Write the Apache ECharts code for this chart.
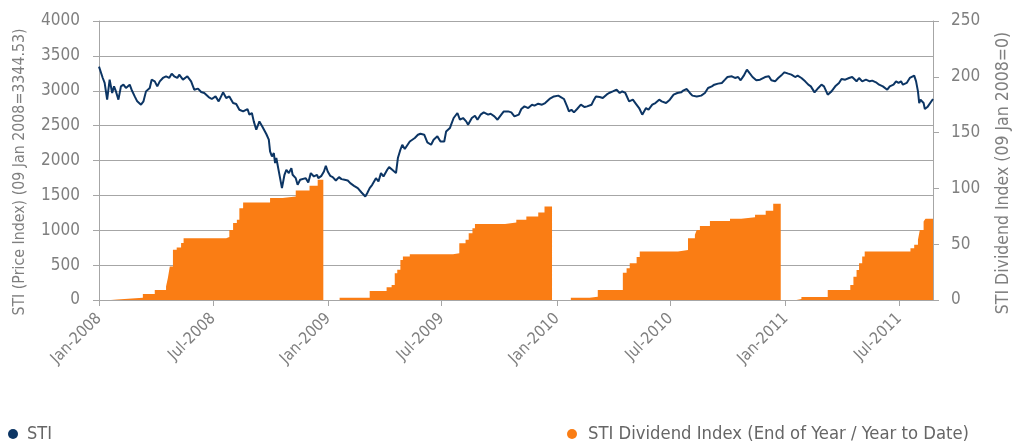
<!DOCTYPE html>
<html>
<head>
<meta charset="utf-8">
<script src="https://cdn.jsdelivr.net/npm/echarts@6/dist/echarts.min.js"></script>
<style>
html, body { margin: 0; padding: 0; background: #fff; }
#chart { width: 1012px; height: 443px; }
</style>
</head>
<body>
<div id="chart"></div>
<script>
// STI price index
const stiDates = [
    '2008-01-09','2008-01-15','2008-01-18','2008-01-22','2008-01-26','2008-01-30','2008-02-02','2008-02-05','2008-02-09','2008-02-13',
    '2008-02-17','2008-02-21','2008-02-27','2008-03-01','2008-03-06','2008-03-10','2008-03-16','2008-03-20','2008-03-24','2008-03-30',
    '2008-04-02','2008-04-07','2008-04-11','2008-04-15','2008-04-20','2008-04-25','2008-04-30','2008-05-04','2008-05-08','2008-05-13',
    '2008-05-16','2008-05-22','2008-05-29','2008-06-04','2008-06-09','2008-06-15','2008-06-20','2008-06-25','2008-07-02','2008-07-07',
    '2008-07-13','2008-07-18','2008-07-25','2008-07-30','2008-08-04','2008-08-10','2008-08-15','2008-08-20','2008-08-26','2008-09-02',
    '2008-09-05','2008-09-09','2008-09-12','2008-09-16','2008-09-21','2008-09-26','2008-10-02','2008-10-06','2008-10-08','2008-10-11',
    '2008-10-14','2008-10-16','2008-10-18','2008-10-21','2008-10-24','2008-10-27','2008-10-31','2008-11-03','2008-11-07','2008-11-11',
    '2008-11-13','2008-11-18','2008-11-21','2008-11-25','2008-11-28','2008-12-04','2008-12-08','2008-12-12','2008-12-17','2008-12-22',
    '2008-12-24','2008-12-29','2009-01-02','2009-01-05','2009-01-08','2009-01-12','2009-01-16','2009-01-21','2009-01-26','2009-01-30',
    '2009-02-04','2009-02-09','2009-02-13','2009-02-19','2009-02-25','2009-03-03','2009-03-09','2009-03-12','2009-03-16','2009-03-20',
    '2009-03-26','2009-03-30','2009-04-03','2009-04-07','2009-04-13','2009-04-16','2009-04-21','2009-04-27','2009-04-30','2009-05-04',
    '2009-05-07','2009-05-11','2009-05-14','2009-05-19','2009-05-22','2009-05-27','2009-06-01','2009-06-05','2009-06-11','2009-06-16',
    '2009-06-22','2009-06-26','2009-07-02','2009-07-07','2009-07-13','2009-07-16','2009-07-22','2009-07-24','2009-07-28','2009-08-03',
    '2009-08-07','2009-08-12','2009-08-17','2009-08-20','2009-08-26','2009-08-31','2009-09-04','2009-09-09','2009-09-14','2009-09-21',
    '2009-09-25','2009-10-01','2009-10-06','2009-10-12','2009-10-16','2009-10-23','2009-10-28','2009-11-02','2009-11-09','2009-11-13',
    '2009-11-18','2009-11-24','2009-11-30','2009-12-04','2009-12-10','2009-12-16','2009-12-21','2009-12-28','2010-01-04','2010-01-06',
    '2010-01-11','2010-01-15','2010-01-20','2010-01-25','2010-01-28','2010-02-01','2010-02-05','2010-02-10','2010-02-16','2010-02-22',
    '2010-02-26','2010-03-05','2010-03-09','2010-03-12','2010-03-18','2010-03-23','2010-03-29','2010-04-02','2010-04-08','2010-04-14',
    '2010-04-19','2010-04-23','2010-04-28','2010-05-04','2010-05-10','2010-05-14','2010-05-20','2010-05-25','2010-05-31','2010-06-04',
    '2010-06-10','2010-06-15','2010-06-21','2010-06-25','2010-07-02','2010-07-08','2010-07-14','2010-07-20','2010-07-26','2010-07-30',
    '2010-08-04','2010-08-09','2010-08-13','2010-08-20','2010-08-27','2010-09-02','2010-09-07','2010-09-13','2010-09-17','2010-09-23',
    '2010-09-29','2010-10-04','2010-10-08','2010-10-15','2010-10-20','2010-10-25','2010-10-29','2010-11-03','2010-11-08','2010-11-12',
    '2010-11-17','2010-11-23','2010-11-29','2010-12-01','2010-12-07','2010-12-13','2010-12-17','2010-12-23','2010-12-28','2011-01-03',
    '2011-01-07','2011-01-13','2011-01-18','2011-01-24','2011-01-28','2011-02-03','2011-02-09','2011-02-14','2011-02-18','2011-02-24',
    '2011-03-02','2011-03-07','2011-03-11','2011-03-17','2011-03-23','2011-03-29','2011-04-04','2011-04-08','2011-04-14','2011-04-20',
    '2011-04-25','2011-05-02','2011-05-06','2011-05-11','2011-05-17','2011-05-23','2011-05-27','2011-06-02','2011-06-07','2011-06-13',
    '2011-06-20','2011-06-24','2011-06-30','2011-07-04','2011-07-08','2011-07-12','2011-07-15','2011-07-21','2011-07-26','2011-08-02',
    '2011-08-05','2011-08-08','2011-08-10','2011-08-12','2011-08-17','2011-08-19','2011-08-23','2011-08-26','2011-09-01'
];
const stiValues = [
    3345, 3183, 3112, 2872, 3159, 2968, 3063, 2991, 2872, 3063,
    3087, 3040, 3087, 3015, 2919, 2848, 2800, 2848, 2991, 3040,
    3159, 3135, 3063, 3135, 3183, 3207, 3183, 3245, 3207, 3183,
    3231, 3159, 3207, 3135, 3015, 3030, 2982, 2968, 2910, 2882,
    2919, 2848, 2977, 2896, 2919, 2824, 2810, 2728, 2704, 2738,
    2657, 2681, 2561, 2441, 2561, 2480, 2380, 2298, 2130, 2058,
    2106, 1963, 2035, 1891, 1867, 1604, 1795, 1867, 1819, 1891,
    1795, 1747, 1651, 1723, 1699, 1747, 1684, 1819, 1771, 1795,
    1747, 1780, 1843, 1924, 1843, 1780, 1762, 1713, 1762, 1733,
    1723, 1713, 1675, 1637, 1604, 1541, 1484, 1531, 1604, 1651,
    1747, 1699, 1819, 1771, 1867, 1905, 1867, 1819, 2035, 2154,
    2226, 2164, 2192, 2273, 2250, 2322, 2369, 2384, 2370, 2260,
    2226, 2298, 2346, 2273, 2273, 2417, 2465, 2513, 2609, 2681,
    2585, 2609, 2561, 2513, 2609, 2642, 2585, 2657, 2690, 2657,
    2670, 2633, 2585, 2657, 2704, 2704, 2690, 2633, 2657, 2738,
    2776, 2752, 2800, 2786, 2814, 2800, 2824, 2882, 2919, 2944,
    2930, 2910, 2882, 2776, 2704, 2728, 2690, 2738, 2800, 2766,
    2776, 2800, 2872, 2919, 2910, 2896, 2944, 2968, 2991, 3015,
    2968, 2991, 2968, 2848, 2872, 2824, 2752, 2657, 2752, 2728,
    2800, 2824, 2872, 2848, 2824, 2872, 2944, 2968, 2977, 3006,
    3025, 2968, 2930, 2919, 2930, 2968, 3040, 3063, 3087, 3102,
    3112, 3159, 3197, 3207, 3183, 3197, 3150, 3216, 3303, 3255,
    3197, 3150, 3159, 3183, 3197, 3207, 3150, 3135, 3183, 3231,
    3264, 3245, 3231, 3197, 3216, 3183, 3135, 3087, 3063, 2977,
    3040, 3087, 3063, 2944, 2991, 3063, 3112, 3169, 3159, 3183,
    3197, 3135, 3183, 3135, 3159, 3135, 3145, 3121, 3087, 3063,
    3015, 3063, 3087, 3135, 3112, 3135, 3087, 3112, 3183, 3216,
    3135, 2991, 2824, 2872, 2824, 2738, 2766, 2752, 2882
];

// STI dividend index, year to date (resets each January)
const divDates = [
    '2008-01-09','2008-01-28','2008-02-07','2008-03-19','2008-04-07','2008-04-25','2008-04-28','2008-05-01','2008-05-06','2008-05-12',
    '2008-05-19','2008-05-23','2008-07-30','2008-08-04','2008-08-10','2008-08-16','2008-08-20','2008-08-26','2008-10-08','2008-10-28',
    '2008-11-18','2008-12-10','2008-12-23',
    '2009-01-01','2009-01-27','2009-03-16','2009-04-12','2009-04-20','2009-04-25','2009-04-29','2009-05-04','2009-05-08','2009-05-19',
    '2009-07-27','2009-08-06','2009-08-16','2009-08-21','2009-08-27','2009-08-31','2009-10-18','2009-11-05','2009-11-21','2009-12-10',
    '2009-12-20',
    '2010-01-01','2010-01-31','2010-03-02','2010-03-15','2010-04-24','2010-04-30','2010-05-05','2010-05-16','2010-05-21','2010-07-21',
    '2010-08-06','2010-08-17','2010-08-20','2010-08-25','2010-09-10','2010-10-12','2010-10-30','2010-11-21','2010-12-08','2010-12-20',
    '2011-01-01','2011-01-26','2011-02-03','2011-03-17','2011-04-22','2011-04-27','2011-05-02','2011-05-06','2011-05-11','2011-05-15',
    '2011-07-27','2011-08-02','2011-08-08','2011-08-11','2011-08-17','2011-08-20','2011-09-01'
];
const divValues = [
    0, 0.5, 2.1, 5.4, 9, 12, 20, 30, 45, 47,
    51, 55.4, 56.5, 62.8, 68.9, 71.8, 82.3, 87.3, 91.3, 92.7,
    98.1, 102.3, 107.7,
    0, 2.1, 8.1, 11.4, 13.5, 24, 27, 35.9, 38.9, 41,
    41.9, 50.9, 53.9, 59.9, 64.4, 68, 69.4, 71.8, 74.8, 78.4,
    83.8,
    0, 2.1, 3, 9, 24.5, 28.4, 32.9, 38.5, 43.4, 44.9,
    55.4, 58.4, 62.8, 66.4, 70.9, 72.7, 74.2, 76.3, 79.9, 86.2,
    0, 0.9, 2.7, 9, 13.5, 20.9, 26.9, 32.9, 38.9, 43.4,
    46.4, 49.4, 53.9, 62.8, 70.3, 72.7, 72.7
];

// x axis ticks every six months from the first observation
const tickDates = ['2008-01-09', '2008-07-09', '2009-01-09', '2009-07-09', '2010-01-09', '2010-07-09', '2011-01-09', '2011-07-09'];
const tickLabels = ['Jan-2008', 'Jul-2008', 'Jan-2009', 'Jul-2009', 'Jan-2010', 'Jul-2010', 'Jan-2011', 'Jul-2011'];

const toTime = (d) => echarts.time.parse(d).getTime();
const tickTimes = tickDates.map(toTime);

const FONT = '"DejaVu Sans Condensed", "Liberation Sans Narrow", sans-serif';
const GREY = '#a6a6a6';
const TEXT = '#7f7f7f';
const NAVY = '#0c3564';
const ORANGE = '#fa7d14';

const chart = echarts.init(document.getElementById('chart'));
chart.setOption({
    animation: false,
    textStyle: { fontFamily: FONT },
    grid: { left: 99, right: 79, top: 21, bottom: 143 },
    legend: [
        {
            data: ['STI'],
            left: 8, top: 425, padding: 0,
            icon: 'circle', itemWidth: 10, itemHeight: 10,
            textStyle: { fontFamily: FONT, fontSize: 18, color: '#666', padding: [0, 0, 0, 4] }
        },
        {
            data: ['STI Dividend Index (End of Year / Year to Date)'],
            left: 567, top: 425, padding: 0,
            icon: 'circle', itemWidth: 10, itemHeight: 10,
            textStyle: { fontFamily: FONT, fontSize: 18.3, color: '#666', padding: [0, 0, 0, 6] }
        }
    ],
    xAxis: {
        type: 'value',
        min: toTime('2008-01-09'),
        max: toTime('2011-09-01'),
        axisLine: { show: true, lineStyle: { color: GREY, width: 1 } },
        axisTick: { show: true, length: 6, customValues: tickTimes, lineStyle: { color: GREY } },
        splitLine: { show: false },
        axisLabel: {
            customValues: tickTimes,
            rotate: 45,
            margin: 16,
            fontSize: 16,
            color: TEXT,
            fontFamily: FONT,
            formatter: (v) => tickLabels[tickTimes.indexOf(v)] || ''
        }
    },
    yAxis: [
        {
            type: 'value',
            min: 0, max: 4000, interval: 500,
            axisLine: { show: true, lineStyle: { color: GREY } },
            axisTick: { show: true, length: 6, lineStyle: { color: GREY } },
            splitLine: { show: true, lineStyle: { color: GREY, width: 1 } },
            axisLabel: { fontSize: 17, color: TEXT, margin: 19, fontFamily: FONT, formatter: (v) => String(v) }
        },
        {
            type: 'value',
            position: 'right',
            min: 0, max: 250, interval: 50,
            axisLine: { show: true, lineStyle: { color: GREY } },
            axisTick: { show: true, length: 6, lineStyle: { color: GREY } },
            splitLine: { show: false },
            axisLabel: { fontSize: 17, color: TEXT, margin: 18, fontFamily: FONT, formatter: (v) => String(v) }
        }
    ],
    graphic: [
        {
            type: 'text',
            x: 20, y: 172,
            rotation: Math.PI / 2,
            style: {
                text: 'STI (Price Index) (09 Jan 2008=3344.53)',
                font: '15.8px ' + FONT,
                fill: TEXT,
                align: 'center',
                verticalAlign: 'middle'
            }
        },
        {
            type: 'text',
            x: 1003, y: 173,
            rotation: Math.PI / 2,
            style: {
                text: 'STI Dividend Index (09 Jan 2008=0)',
                font: '17.5px ' + FONT,
                fill: TEXT,
                align: 'center',
                verticalAlign: 'middle'
            }
        }
    ],
    series: [
        {
            name: 'STI Dividend Index (End of Year / Year to Date)',
            type: 'line',
            yAxisIndex: 1,
            step: 'end',
            showSymbol: false,
            symbol: 'circle',
            color: ORANGE,
            lineStyle: { width: 0 },
            areaStyle: { color: ORANGE, opacity: 1 },
            data: divDates.map((d, i) => [toTime(d), divValues[i]])
        },
        {
            name: 'STI',
            type: 'line',
            yAxisIndex: 0,
            showSymbol: false,
            symbol: 'circle',
            color: NAVY,
            lineStyle: { width: 2, color: NAVY },
            data: stiDates.map((d, i) => [toTime(d), stiValues[i]])
        }
    ]
});
</script>
</body>
</html>
